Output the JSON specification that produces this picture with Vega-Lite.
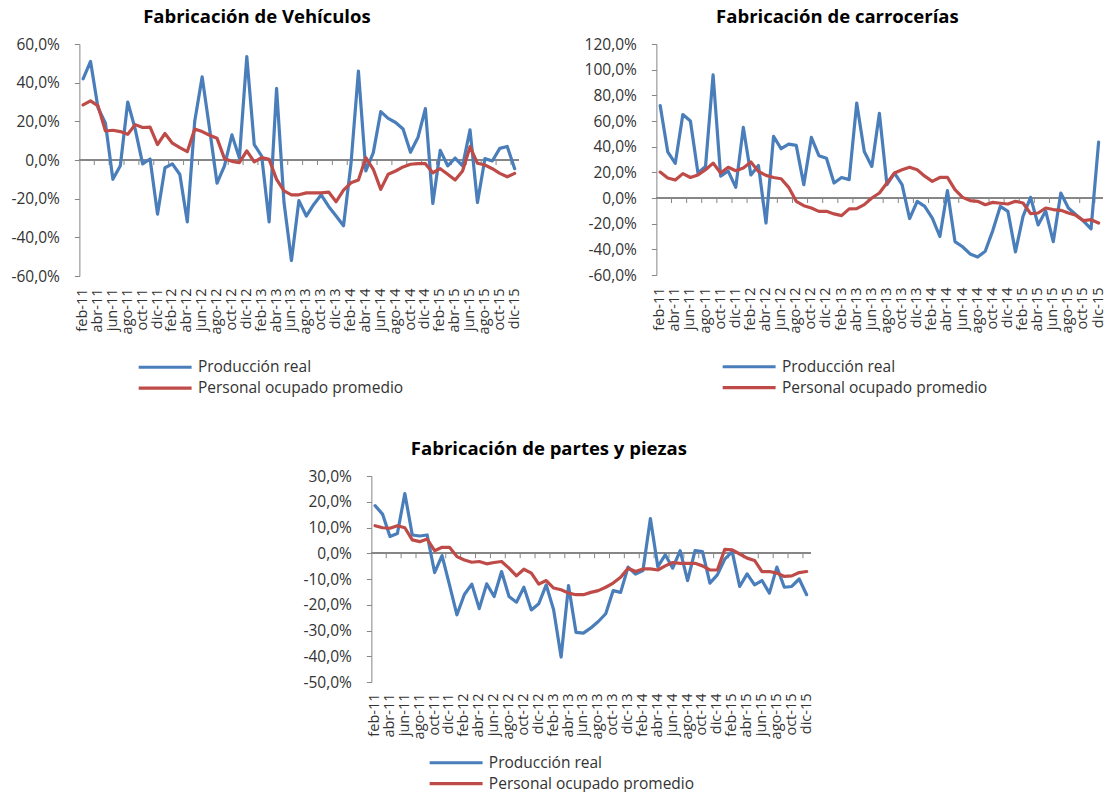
{
  "$schema": "https://vega.github.io/schema/vega-lite/v6.json",
  "background": "white",
  "padding": {"left": 10, "top": 7, "right": 0, "bottom": 0},
  "center": true,
  "spacing": 41,
  "config": {
    "font": "Open Sans",
    "view": {"stroke": null},
    "axis": {"grid": false, "labelFont": "Open Sans", "labelColor": "#333333", "title": null, "labelOverlap": false},
    "legend": {"labelFont": "Open Sans", "labelFontSize": 15.5, "labelColor": "#333333", "labelLimit": 400, "symbolType": "M-5,0H5", "symbolSize": 112, "symbolStrokeWidth": 3.5, "labelOffset": 25, "rowPadding": 3.8, "padding": 0},
    "title": {"font": "Open Sans", "fontSize": 18.5, "fontWeight": "bold", "color": "#000000", "anchor": "middle", "frame": "group", "dx": -42, "offset": 11},
    "line": {"strokeWidth": 3.2, "strokeCap": "round", "strokeJoin": "round"}
  },
  "resolve": {"scale": {"color": "independent"}, "legend": {"color": "independent"}},
  "datasets": {
    "veh": [
      {"mes":"feb-11","prod":42,"pers":28.5},{"mes":"mar-11","prod":51,"pers":30.6},{"mes":"abr-11","prod":27,"pers":28},{"mes":"may-11","prod":19,"pers":15},{"mes":"jun-11","prod":-10,"pers":15.4},{"mes":"jul-11","prod":-3,"pers":14.7},{"mes":"ago-11","prod":30,"pers":13.3},{"mes":"sep-11","prod":16,"pers":18.3},{"mes":"oct-11","prod":-2,"pers":16.8},{"mes":"nov-11","prod":0.5,"pers":17},{"mes":"dic-11","prod":-28,"pers":8},
      {"mes":"ene-12","prod":-4,"pers":13.7},{"mes":"feb-12","prod":-2,"pers":8.7},{"mes":"mar-12","prod":-7.5,"pers":6.4},{"mes":"abr-12","prod":-32,"pers":4.3},{"mes":"may-12","prod":20,"pers":16},{"mes":"jun-12","prod":43,"pers":14.7},{"mes":"jul-12","prod":16,"pers":12.8},{"mes":"ago-12","prod":-12,"pers":11.2},{"mes":"sep-12","prod":-3,"pers":0.7},{"mes":"oct-12","prod":13,"pers":-0.7},{"mes":"nov-12","prod":1,"pers":-1.4},{"mes":"dic-12","prod":53.5,"pers":4.7},
      {"mes":"ene-13","prod":8,"pers":-1},{"mes":"feb-13","prod":2,"pers":1.2},{"mes":"mar-13","prod":-32,"pers":0.3},{"mes":"abr-13","prod":37,"pers":-10},{"mes":"may-13","prod":-22,"pers":-16},{"mes":"jun-13","prod":-52,"pers":-18},{"mes":"jul-13","prod":-21,"pers":-18},{"mes":"ago-13","prod":-29,"pers":-17},{"mes":"sep-13","prod":-23,"pers":-17},{"mes":"oct-13","prod":-18,"pers":-17},{"mes":"nov-13","prod":-24,"pers":-16.6},{"mes":"dic-13","prod":-29,"pers":-21.6},
      {"mes":"ene-14","prod":-34,"pers":-15.6},{"mes":"feb-14","prod":-2,"pers":-11.8},{"mes":"mar-14","prod":46,"pers":-10.4},{"mes":"abr-14","prod":-5.7,"pers":1.2},{"mes":"may-14","prod":3.8,"pers":-4.8},{"mes":"jun-14","prod":25,"pers":-15.2},{"mes":"jul-14","prod":21.5,"pers":-7.4},{"mes":"ago-14","prod":19.4,"pers":-5.7},{"mes":"sep-14","prod":16,"pers":-3.6},{"mes":"oct-14","prod":4,"pers":-2.2},{"mes":"nov-14","prod":11.6,"pers":-1.9},{"mes":"dic-14","prod":26.6,"pers":-1.9},
      {"mes":"ene-15","prod":-22.5,"pers":-6.6},{"mes":"feb-15","prod":5,"pers":-4.5},{"mes":"mar-15","prod":-3,"pers":-7.4},{"mes":"abr-15","prod":1,"pers":-10.4},{"mes":"may-15","prod":-3,"pers":-5.7},{"mes":"jun-15","prod":15.6,"pers":6.9},{"mes":"jul-15","prod":-22,"pers":-1.7},{"mes":"ago-15","prod":0.7,"pers":-2.6},{"mes":"sep-15","prod":-0.5,"pers":-4.5},{"mes":"oct-15","prod":6,"pers":-6.9},{"mes":"nov-15","prod":7,"pers":-8.7},{"mes":"dic-15","prod":-4.5,"pers":-6.9}
    ],
    "car": [
      {"mes":"feb-11","prod":72,"pers":20.2},{"mes":"mar-11","prod":36,"pers":15.6},{"mes":"abr-11","prod":27,"pers":14},{"mes":"may-11","prod":65,"pers":19},{"mes":"jun-11","prod":60,"pers":16},{"mes":"jul-11","prod":19.5,"pers":18},{"mes":"ago-11","prod":24.6,"pers":22},{"mes":"sep-11","prod":96,"pers":27.2},{"mes":"oct-11","prod":17,"pers":19.5},{"mes":"nov-11","prod":21,"pers":23.9},{"mes":"dic-11","prod":8.3,"pers":21.3},
      {"mes":"ene-12","prod":55,"pers":23.3},{"mes":"feb-12","prod":18,"pers":28},{"mes":"mar-12","prod":25.4,"pers":20.7},{"mes":"abr-12","prod":-19.5,"pers":17.6},{"mes":"may-12","prod":48,"pers":16},{"mes":"jun-12","prod":38.4,"pers":15},{"mes":"jul-12","prod":42,"pers":8.3},{"mes":"ago-12","prod":41,"pers":-2.6},{"mes":"sep-12","prod":10.4,"pers":-6},{"mes":"oct-12","prod":47.2,"pers":-7.8},{"mes":"nov-12","prod":33,"pers":-10.4},{"mes":"dic-12","prod":31,"pers":-10.4},
      {"mes":"ene-13","prod":11.7,"pers":-12.4},{"mes":"feb-13","prod":16,"pers":-13.7},{"mes":"mar-13","prod":14.3,"pers":-8.5},{"mes":"abr-13","prod":74,"pers":-8.3},{"mes":"may-13","prod":36.3,"pers":-5.2},{"mes":"jun-13","prod":24.6,"pers":0},{"mes":"jul-13","prod":66,"pers":3.9},{"mes":"ago-13","prod":10.4,"pers":11.7},{"mes":"sep-13","prod":19.4,"pers":19.5},{"mes":"oct-13","prod":10.4,"pers":22},{"mes":"nov-13","prod":-16,"pers":24},{"mes":"dic-13","prod":-2.6,"pers":22},
      {"mes":"ene-14","prod":-6.5,"pers":17},{"mes":"feb-14","prod":-15.6,"pers":13},{"mes":"mar-14","prod":-30,"pers":16},{"mes":"abr-14","prod":5.7,"pers":16},{"mes":"may-14","prod":-34,"pers":6.5},{"mes":"jun-14","prod":-38,"pers":0.5},{"mes":"jul-14","prod":-43.6,"pers":-2},{"mes":"ago-14","prod":-46,"pers":-2.6},{"mes":"sep-14","prod":-41.5,"pers":-5.2},{"mes":"oct-14","prod":-25.4,"pers":-3.4},{"mes":"nov-14","prod":-6.5,"pers":-4.1},{"mes":"dic-14","prod":-10.4,"pers":-4.7},
      {"mes":"ene-15","prod":-42,"pers":-2.6},{"mes":"feb-15","prod":-14.3,"pers":-3.9},{"mes":"mar-15","prod":0.5,"pers":-12.2},{"mes":"abr-15","prod":-21,"pers":-11.7},{"mes":"may-15","prod":-10,"pers":-7.8},{"mes":"jun-15","prod":-34,"pers":-9},{"mes":"jul-15","prod":3.9,"pers":-9.6},{"mes":"ago-15","prod":-7.8,"pers":-11.7},{"mes":"sep-15","prod":-13,"pers":-13.5},{"mes":"oct-15","prod":-18,"pers":-17.6},{"mes":"nov-15","prod":-24,"pers":-16.9},{"mes":"dic-15","prod":43.6,"pers":-19.5}
    ],
    "par": [
      {"mes":"feb-11","prod":18.5,"pers":10.7},{"mes":"mar-11","prod":15.2,"pers":9.9},{"mes":"abr-11","prod":6.5,"pers":9.7},{"mes":"may-11","prod":7.7,"pers":10.7},{"mes":"jun-11","prod":23.2,"pers":9.9},{"mes":"jul-11","prod":7.1,"pers":5.2},{"mes":"ago-11","prod":6.7,"pers":4.5},{"mes":"sep-11","prod":7.1,"pers":5.5},{"mes":"oct-11","prod":-7.5,"pers":1},{"mes":"nov-11","prod":-0.9,"pers":2.3},{"mes":"dic-11","prod":-12.3,"pers":2.3},
      {"mes":"ene-12","prod":-23.9,"pers":-1.3},{"mes":"feb-12","prod":-16,"pers":-2.6},{"mes":"mar-12","prod":-12,"pers":-3.5},{"mes":"abr-12","prod":-21.5,"pers":-3.2},{"mes":"may-12","prod":-11.9,"pers":-4.1},{"mes":"jun-12","prod":-16.8,"pers":-3.6},{"mes":"jul-12","prod":-7.1,"pers":-3.2},{"mes":"ago-12","prod":-16.8,"pers":-5.8},{"mes":"sep-12","prod":-19,"pers":-8.8},{"mes":"oct-12","prod":-13.2,"pers":-6.2},{"mes":"nov-12","prod":-22,"pers":-7.7},{"mes":"dic-12","prod":-19.6,"pers":-12},
      {"mes":"ene-13","prod":-12.3,"pers":-10.6},{"mes":"feb-13","prod":-22,"pers":-13.5},{"mes":"mar-13","prod":-40.3,"pers":-14.2},{"mes":"abr-13","prod":-12.6,"pers":-15.5},{"mes":"may-13","prod":-30.7,"pers":-16.1},{"mes":"jun-13","prod":-31,"pers":-16.1},{"mes":"jul-13","prod":-29,"pers":-15.2},{"mes":"ago-13","prod":-26.5,"pers":-14.5},{"mes":"sep-13","prod":-23.5,"pers":-13.2},{"mes":"oct-13","prod":-14.5,"pers":-11.6},{"mes":"nov-13","prod":-15.2,"pers":-9.3},{"mes":"dic-13","prod":-5.4,"pers":-5.8},
      {"mes":"ene-14","prod":-8.1,"pers":-7.1},{"mes":"feb-14","prod":-6.7,"pers":-6.1},{"mes":"mar-14","prod":13.5,"pers":-6.1},{"mes":"abr-14","prod":-5.2,"pers":-6.5},{"mes":"may-14","prod":-0.6,"pers":-4.9},{"mes":"jun-14","prod":-5.8,"pers":-3.6},{"mes":"jul-14","prod":1,"pers":-3.9},{"mes":"ago-14","prod":-10.6,"pers":-3.9},{"mes":"sep-14","prod":1,"pers":-3.9},{"mes":"oct-14","prod":0.6,"pers":-4.9},{"mes":"nov-14","prod":-11.6,"pers":-6.5},{"mes":"dic-14","prod":-8.4,"pers":-6.5},
      {"mes":"ene-15","prod":-2.3,"pers":1.5},{"mes":"feb-15","prod":0.6,"pers":1.3},{"mes":"mar-15","prod":-12.9,"pers":-0.3},{"mes":"abr-15","prod":-8,"pers":-1.9},{"mes":"may-15","prod":-12.3,"pers":-2.8},{"mes":"jun-15","prod":-10.6,"pers":-7.1},{"mes":"jul-15","prod":-15.5,"pers":-7.1},{"mes":"ago-15","prod":-5.4,"pers":-7.7},{"mes":"sep-15","prod":-13.2,"pers":-9},{"mes":"oct-15","prod":-12.9,"pers":-8.8},{"mes":"nov-15","prod":-10,"pers":-7.5},{"mes":"dic-15","prod":-16.1,"pers":-7.1}
    ]
  },
  "vconcat": [
    {
      "hconcat": [
        {
          "title": "Fabricación de Vehículos",
          "width": 439, "height": 232,
          "data": {"name": "veh"},
          "layer": [
            {"mark": {"type": "rule", "color": "#868686", "strokeWidth": 1}, "encoding": {"y": {"datum": 0, "type": "quantitative"}}},
            {"transform": [{"filter": "indexof(['feb','abr','jun','ago','oct','dic'], slice(datum.mes,0,3)) >= 0 && datum.mes != 'feb-11'"}],
             "mark": {"type": "rule", "color": "#868686", "strokeWidth": 1},
             "encoding": {"x": {"field": "mes", "type": "ordinal", "bandPosition": 0}, "y": {"datum": 0, "type": "quantitative"}, "y2": {"datum": -2.6}}},
            {"mark": {"type": "line", "color": "#4A7EBB"},
             "encoding": {
               "x": {"field": "mes", "type": "ordinal", "bandPosition": 0.5,
                     "scale": {"type": "band", "paddingInner": 0, "paddingOuter": 0, "domain": ["feb-11","mar-11","abr-11","may-11","jun-11","jul-11","ago-11","sep-11","oct-11","nov-11","dic-11","ene-12","feb-12","mar-12","abr-12","may-12","jun-12","jul-12","ago-12","sep-12","oct-12","nov-12","dic-12","ene-13","feb-13","mar-13","abr-13","may-13","jun-13","jul-13","ago-13","sep-13","oct-13","nov-13","dic-13","ene-14","feb-14","mar-14","abr-14","may-14","jun-14","jul-14","ago-14","sep-14","oct-14","nov-14","dic-14","ene-15","feb-15","mar-15","abr-15","may-15","jun-15","jul-15","ago-15","sep-15","oct-15","nov-15","dic-15"]},
                     "axis": {"orient": "bottom", "domain": false, "ticks": false, "labelAngle": 270, "labelPadding": 12, "labelFontSize": 14.5, "labelOverlap": false, "title": null,
                              "labelExpr": "indexof(['feb','abr','jun','ago','oct','dic'], slice(datum.value,0,3)) >= 0 ? datum.value : ''"}},
               "y": {"field": "prod", "type": "quantitative", "title": null,
                     "scale": {"domain": [-60, 60], "nice": false, "zero": false},
                     "axis": {"values": [-60,-40,-20,0,20,40,60], "tickCount": 20, "domainColor": "#868686", "tickColor": "#868686", "tickSize": 5, "labelPadding": 15, "labelFontSize": 15.5, "labelOverlap": false, "title": null,
                              "labelExpr": "(datum.value < 0 ? '-' : '') + replace(format(abs(datum.value), '.1f'), '.', ',') + '%'"}},
               "color": {"datum": "Producción real", "type": "nominal",
                         "scale": {"domain": ["Producción real", "Personal ocupado promedio"], "range": ["#4A7EBB", "#BE4B48"]},
                         "legend": {"title": null, "orient": "none", "direction": "vertical", "legendX": 78, "legendY": 315.5}}
             }},
            {"mark": {"type": "line", "color": "#BE4B48"},
             "encoding": {
               "x": {"field": "mes", "type": "ordinal", "bandPosition": 0.5},
               "y": {"field": "pers", "type": "quantitative", "title": null},
               "color": {"datum": "Personal ocupado promedio", "type": "nominal"}
             }}
          ]
        },
        {
          "title": "Fabricación de carrocerías",
          "width": 446, "height": 231,
          "data": {"name": "car"},
          "layer": [
            {"mark": {"type": "rule", "color": "#868686", "strokeWidth": 1}, "encoding": {"y": {"datum": 0, "type": "quantitative"}}},
            {"transform": [{"filter": "indexof(['feb','abr','jun','ago','oct','dic'], slice(datum.mes,0,3)) >= 0 && datum.mes != 'feb-11'"}],
             "mark": {"type": "rule", "color": "#868686", "strokeWidth": 1},
             "encoding": {"x": {"field": "mes", "type": "ordinal", "bandPosition": 0}, "y": {"datum": 0, "type": "quantitative"}, "y2": {"datum": -3.9}}},
            {"mark": {"type": "line", "color": "#4A7EBB"},
             "encoding": {
               "x": {"field": "mes", "type": "ordinal", "bandPosition": 0.5,
                     "scale": {"type": "band", "paddingInner": 0, "paddingOuter": 0, "domain": ["feb-11","mar-11","abr-11","may-11","jun-11","jul-11","ago-11","sep-11","oct-11","nov-11","dic-11","ene-12","feb-12","mar-12","abr-12","may-12","jun-12","jul-12","ago-12","sep-12","oct-12","nov-12","dic-12","ene-13","feb-13","mar-13","abr-13","may-13","jun-13","jul-13","ago-13","sep-13","oct-13","nov-13","dic-13","ene-14","feb-14","mar-14","abr-14","may-14","jun-14","jul-14","ago-14","sep-14","oct-14","nov-14","dic-14","ene-15","feb-15","mar-15","abr-15","may-15","jun-15","jul-15","ago-15","sep-15","oct-15","nov-15","dic-15"]},
                     "axis": {"orient": "bottom", "domain": false, "ticks": false, "labelAngle": 270, "labelPadding": 12, "labelFontSize": 14.5, "labelOverlap": false, "title": null,
                              "labelExpr": "indexof(['feb','abr','jun','ago','oct','dic'], slice(datum.value,0,3)) >= 0 ? datum.value : ''"}},
               "y": {"field": "prod", "type": "quantitative", "title": null,
                     "scale": {"domain": [-60, 120], "nice": false, "zero": false},
                     "axis": {"values": [-60,-40,-20,0,20,40,60,80,100,120], "tickCount": 20, "domainColor": "#868686", "tickColor": "#868686", "tickSize": 5, "labelPadding": 15, "labelFontSize": 15.5, "labelOverlap": false, "title": null,
                              "labelExpr": "(datum.value < 0 ? '-' : '') + replace(format(abs(datum.value), '.1f'), '.', ',') + '%'"}},
               "color": {"datum": "Producción real", "type": "nominal",
                         "scale": {"domain": ["Producción real", "Personal ocupado promedio"], "range": ["#4A7EBB", "#BE4B48"]},
                         "legend": {"title": null, "orient": "none", "direction": "vertical", "legendX": 85, "legendY": 315}}
             }},
            {"mark": {"type": "line", "color": "#BE4B48"},
             "encoding": {
               "x": {"field": "mes", "type": "ordinal", "bandPosition": 0.5},
               "y": {"field": "pers", "type": "quantitative", "title": null},
               "color": {"datum": "Personal ocupado promedio", "type": "nominal"}
             }}
          ]
        }
      ],
      "spacing": 138,
      "bounds": "flush",
      "resolve": {"scale": {"color": "independent"}, "legend": {"color": "independent"}}
    },
    {
      "title": "Fabricación de partes y piezas",
      "width": 439, "height": 206,
      "data": {"name": "par"},
      "layer": [
        {"mark": {"type": "rule", "color": "#868686", "strokeWidth": 1}, "encoding": {"y": {"datum": 0, "type": "quantitative"}}},
        {"transform": [{"filter": "indexof(['feb','abr','jun','ago','oct','dic'], slice(datum.mes,0,3)) >= 0 && datum.mes != 'feb-11'"}],
         "mark": {"type": "rule", "color": "#868686", "strokeWidth": 1},
         "encoding": {"x": {"field": "mes", "type": "ordinal", "bandPosition": 0}, "y": {"datum": 0, "type": "quantitative"}, "y2": {"datum": -1.95}}},
        {"mark": {"type": "line", "color": "#4A7EBB"},
         "encoding": {
           "x": {"field": "mes", "type": "ordinal", "bandPosition": 0.5,
                 "scale": {"type": "band", "paddingInner": 0, "paddingOuter": 0, "domain": ["feb-11","mar-11","abr-11","may-11","jun-11","jul-11","ago-11","sep-11","oct-11","nov-11","dic-11","ene-12","feb-12","mar-12","abr-12","may-12","jun-12","jul-12","ago-12","sep-12","oct-12","nov-12","dic-12","ene-13","feb-13","mar-13","abr-13","may-13","jun-13","jul-13","ago-13","sep-13","oct-13","nov-13","dic-13","ene-14","feb-14","mar-14","abr-14","may-14","jun-14","jul-14","ago-14","sep-14","oct-14","nov-14","dic-14","ene-15","feb-15","mar-15","abr-15","may-15","jun-15","jul-15","ago-15","sep-15","oct-15","nov-15","dic-15"]},
                 "axis": {"orient": "bottom", "domain": false, "ticks": false, "labelAngle": 270, "labelPadding": 11, "labelFontSize": 14.5, "labelOverlap": false, "title": null,
                          "labelExpr": "indexof(['feb','abr','jun','ago','oct','dic'], slice(datum.value,0,3)) >= 0 ? datum.value : ''"}},
           "y": {"field": "prod", "type": "quantitative", "title": null,
                 "scale": {"domain": [-50, 30], "nice": false, "zero": false},
                 "axis": {"values": [-50,-40,-30,-20,-10,0,10,20,30], "tickCount": 20, "domainColor": "#868686", "tickColor": "#868686", "tickSize": 5, "labelPadding": 15, "labelFontSize": 15.5, "labelOverlap": false, "title": null,
                          "labelExpr": "(datum.value < 0 ? '-' : '') + replace(format(abs(datum.value), '.1f'), '.', ',') + '%'"}},
           "color": {"datum": "Producción real", "type": "nominal",
                     "scale": {"domain": ["Producción real", "Personal ocupado promedio"], "range": ["#4A7EBB", "#BE4B48"]},
                     "legend": {"title": null, "orient": "none", "direction": "vertical", "legendX": 77, "legendY": 279}}
         }},
        {"mark": {"type": "line", "color": "#BE4B48"},
         "encoding": {
           "x": {"field": "mes", "type": "ordinal", "bandPosition": 0.5},
           "y": {"field": "pers", "type": "quantitative", "title": null},
           "color": {"datum": "Personal ocupado promedio", "type": "nominal"}
         }}
      ]
    }
  ]
}
